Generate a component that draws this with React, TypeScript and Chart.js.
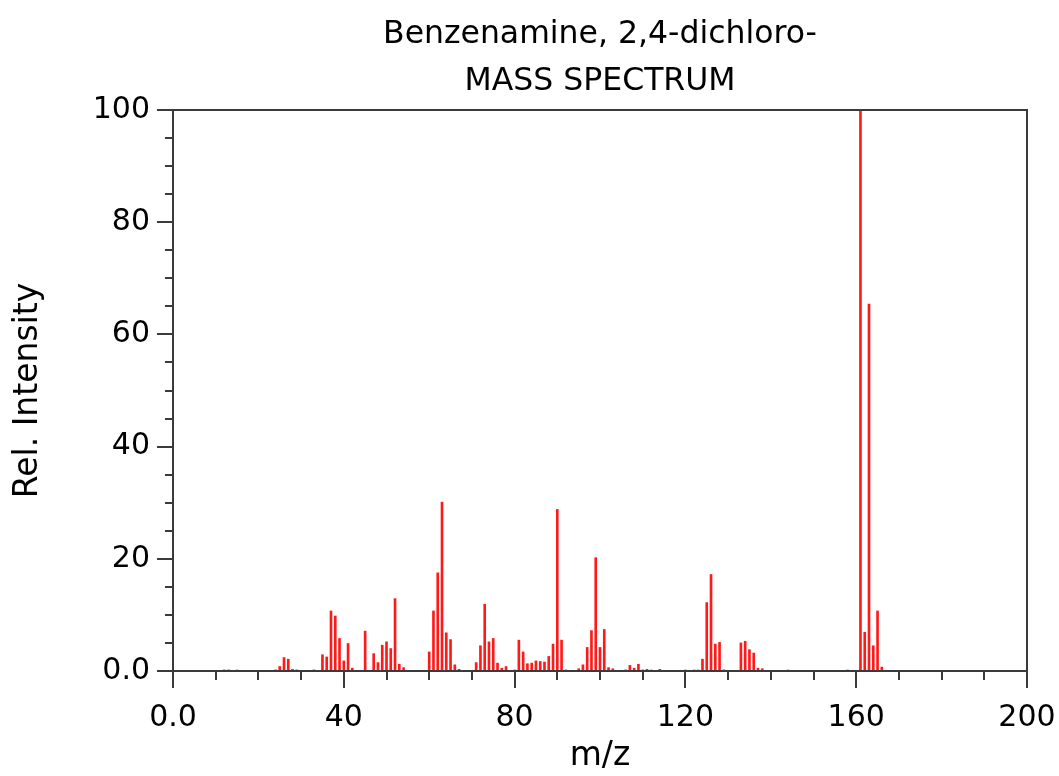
import React, { useEffect, useRef } from "react";
import { Chart, registerables } from "chart.js";

Chart.register(...registerables);

// m/z values and relative intensities
const MZ = [
  12, 13, 15, 24, 25, 26, 27, 28, 29, 33,
  35, 36, 37, 38, 39, 40, 41, 42, 45, 47,
  48, 49, 50, 51, 52, 53, 54, 60, 61, 62,
  63, 64, 65, 66, 67, 71, 72, 73, 74, 75,
  76, 77, 78, 80, 81, 82, 83, 84, 85, 86,
  87, 88, 89, 90, 91, 92, 95, 96, 97, 98,
  99, 100, 101, 102, 103, 106, 107, 108, 109, 110,
  111, 112, 114, 120, 122, 123, 124, 125, 126, 127,
  128, 129, 133, 134, 135, 136, 137, 138, 144, 158,
  161, 162, 163, 164, 165, 166,
];
const INTENSITY = [
  0.2, 0.2, 0.1, 0.2, 0.8, 2.4, 2.1, 0.3, 0.2, 0.2,
  2.9, 2.5, 10.7, 9.8, 5.8, 1.8, 4.9, 0.5, 7.1, 3.1,
  1.5, 4.6, 5.2, 4.0, 12.9, 1.2, 0.6, 3.4, 10.7, 17.5,
  30.1, 6.8, 5.6, 1.1, 0.3, 1.5, 4.5, 11.9, 5.2, 5.8,
  1.4, 0.5, 0.8, 0.1, 5.5, 3.4, 1.3, 1.4, 1.8, 1.7,
  1.6, 2.6, 4.8, 28.8, 5.5, 0.2, 0.4, 1.1, 4.2, 7.2,
  20.2, 4.2, 7.4, 0.6, 0.4, 0.2, 1.0, 0.5, 1.2, 0.2,
  0.3, 0.1, 0.3, 0.1, 0.1, 0.1, 2.1, 12.2, 17.2, 4.8,
  5.1, 0.2, 5.0, 5.3, 3.8, 3.2, 0.5, 0.4, 0.1, 0.1,
  100, 6.9, 65.4, 4.5, 10.7, 0.7,
];

const TITLE_LINES = ["Benzenamine, 2,4-dichloro-", "MASS SPECTRUM"];
const X_TITLE = "m/z";
const Y_TITLE = "Rel. Intensity";
const X_TICKS = [0, 40, 80, 120, 160, 200];
const X_TICK_LABELS = ["0.0", "40", "80", "120", "160", "200"];
const Y_TICKS = [0, 20, 40, 60, 80, 100];
const Y_TICK_LABELS = ["0.0", "20", "40", "60", "80", "100"];
const X_MINOR_STEP = 10;
const Y_MINOR_STEP = 5;

const AXIS_COLOR = "#3a3a3a";
const FONT = "'DejaVu Sans', sans-serif";

const frameAndMinorTicks = {
  id: "frameAndMinorTicks",
  afterDraw(chart: any) {
    const { ctx, chartArea, scales } = chart;
    const x = scales.x;
    const y = scales.y;
    ctx.save();
    ctx.strokeStyle = AXIS_COLOR;
    ctx.lineWidth = 2;
    ctx.beginPath();
    for (let v = x.min; v <= x.max; v += X_MINOR_STEP) {
      if (X_TICKS.includes(v)) continue;
      const px = Math.round(x.getPixelForValue(v));
      ctx.moveTo(px, chartArea.bottom);
      ctx.lineTo(px, chartArea.bottom + 9);
    }
    for (let v = y.min; v <= y.max; v += Y_MINOR_STEP) {
      if (Y_TICKS.includes(v)) continue;
      const py = Math.round(y.getPixelForValue(v));
      ctx.moveTo(chartArea.left, py);
      ctx.lineTo(chartArea.left - 8, py);
    }
    ctx.stroke();
    ctx.strokeRect(
      chartArea.left,
      chartArea.top,
      chartArea.right - chartArea.left,
      chartArea.bottom - chartArea.top
    );
    ctx.restore();
  },
};

export default function App() {
  const ref = useRef<HTMLCanvasElement>(null);

  useEffect(() => {
    if (!ref.current) return;
    const chart = new Chart(ref.current, {
      type: "bar",
      data: {
        datasets: [
          {
            data: MZ.map((m, i) => ({ x: m, y: INTENSITY[i] })),
            backgroundColor: "rgba(255,0,0,0.9)",
            borderWidth: 0,
            barThickness: 2,
          },
        ],
      },
      plugins: [frameAndMinorTicks],
      options: {
        responsive: false,
        animation: false,
        devicePixelRatio: 1,
        layout: { padding: { left: 0, right: 32, top: 0, bottom: 0 } },
        plugins: {
          legend: { display: false },
          tooltip: { enabled: false },
          title: {
            display: true,
            fullSize: false,
            text: TITLE_LINES,
            color: "#000",
            font: { family: FONT, size: 31.5, weight: "normal", lineHeight: 1.5 },
            padding: { top: 11, bottom: 4.5 },
          },
        },
        scales: {
          x: {
            type: "linear",
            min: 0,
            max: 200,
            offset: false,
            afterFit(scale: any) {
              scale.height = 105;
              scale.paddingLeft = 0;
              scale.paddingRight = 0;
            },
            afterBuildTicks(scale: any) {
              scale.ticks = X_TICKS.map((v) => ({ value: v }));
            },
            ticks: {
              autoSkip: false,
              maxRotation: 0,
              color: "#000",
              padding: 12,
              font: { family: FONT, size: 30 },
              callback: (_v: any, i: number) => X_TICK_LABELS[i],
            },
            grid: {
              offset: false,
              drawOnChartArea: false,
              drawTicks: true,
              tickLength: 17,
              color: AXIS_COLOR,
              lineWidth: 2,
            },
            border: { display: true, color: AXIS_COLOR, width: 2 },
            title: {
              display: true,
              text: X_TITLE,
              color: "#000",
              font: { family: FONT, size: 33 },
              padding: { top: 0, bottom: 0 },
            },
          },
          y: {
            type: "linear",
            min: 0,
            max: 100,
            afterFit(scale: any) {
              scale.width = 173;
              scale.paddingTop = 0;
              scale.paddingBottom = 0;
            },
            afterBuildTicks(scale: any) {
              scale.ticks = Y_TICKS.map((v) => ({ value: v }));
            },
            ticks: {
              color: "#000",
              padding: 7,
              font: { family: FONT, size: 30 },
              callback: (_v: any, i: number) => Y_TICK_LABELS[i],
            },
            grid: {
              drawOnChartArea: false,
              drawTicks: true,
              tickLength: 16,
              color: AXIS_COLOR,
              lineWidth: 2,
            },
            border: { display: true, color: AXIS_COLOR, width: 2 },
            title: {
              display: true,
              text: Y_TITLE,
              color: "#000",
              font: { family: FONT, size: 33 },
              padding: { top: 9, bottom: 0 },
            },
          },
        },
      },
    } as any);
    return () => chart.destroy();
  }, []);

  return (
    <div style={{ position: "absolute", left: 0, top: 0, width: 1059, height: 776 }}>
      <canvas ref={ref} width={1059} height={776} />
    </div>
  );
}
